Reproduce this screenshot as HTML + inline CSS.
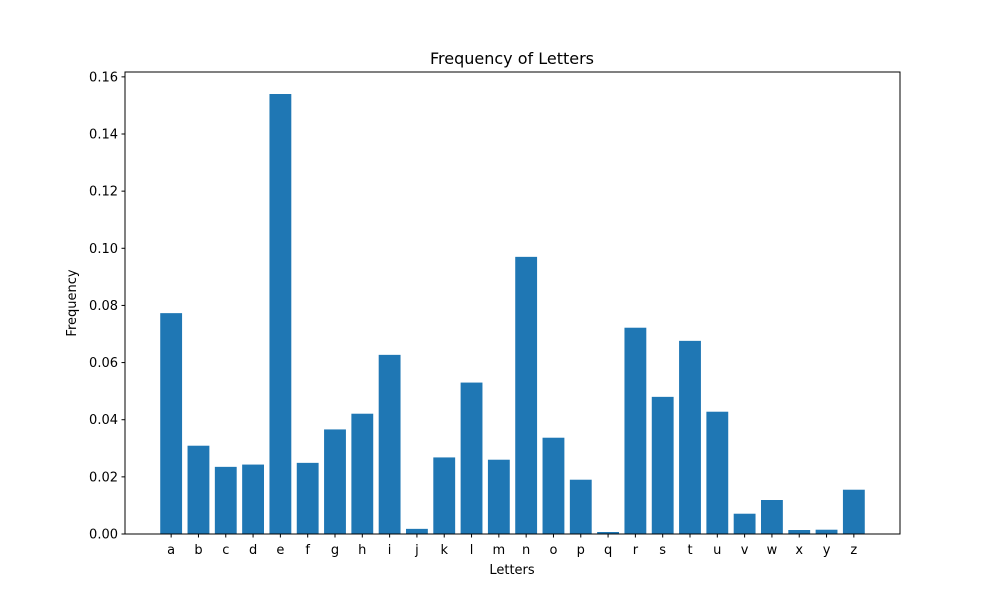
<!DOCTYPE html>
<html><head><meta charset="utf-8"><style>
body{margin:0;background:#fff;}
svg text{font-family:"DejaVu Sans","Liberation Sans",sans-serif;fill:#000;}
</style></head><body>
<svg id="chart" width="1000" height="600" xmlns="http://www.w3.org/2000/svg">
<rect width="1000" height="600" fill="#fff"/>
<text x="512" y="64" font-size="16" text-anchor="middle">Frequency of Letters</text>
<text x="512" y="574" font-size="13" text-anchor="middle">Letters</text>
<text x="0" y="0" font-size="13" text-anchor="middle" transform="translate(76,303) rotate(-90)">Frequency</text>
<g id="bars"></g><g id="ticks"></g>
<rect x="125" y="72" width="775" height="462" fill="none" stroke="#000" stroke-width="1"/>
</svg>
<script>
const categories=["a","b","c","d","e","f","g","h","i","j","k","l","m","n","o","p","q","r","s","t","u","v","w","x","y","z"];
const values=[0.0773,0.0309,0.0235,0.0243,0.154,0.0249,0.0366,0.0421,0.0627,0.0018,0.0268,0.053,0.026,0.097,0.0337,0.019,0.0007,0.0722,0.048,0.0676,0.0428,0.0071,0.0119,0.0014,0.0015,0.0155];
const yTicks=[0,0.02,0.04,0.06,0.08,0.10,0.12,0.14,0.16];
const yTickLabels=["0.00","0.02","0.04","0.06","0.08","0.10","0.12","0.14","0.16"];
const NS="http://www.w3.org/2000/svg";
const L=125,R=900,T=72,B=534;
const n=categories.length;
const yMax=Math.max(...values)*1.05;
const xMin=-0.4-0.05*(n-0.2),xMax=n-1+0.4+0.05*(n-0.2);
const xs=v=>L+(v-xMin)/(xMax-xMin)*(R-L);
const ys=v=>B-v/yMax*(B-T);
const bars=document.getElementById('bars'),ticks=document.getElementById('ticks');
function mk(tag,a){const e=document.createElementNS(NS,tag);for(const k in a)e.setAttribute(k,a[k]);return e;}
values.forEach((v,i)=>{
 const x0=xs(i-0.4),x1=xs(i+0.4);
 const r=mk('rect',{x:x0,y:ys(v),width:x1-x0,height:B-ys(v),fill:'#1f77b4'});
 
 
 bars.appendChild(r);
 const t=mk('line',{x1:xs(i),x2:xs(i),y1:B,y2:B+3.5,stroke:'#000'});
 
 
 ticks.appendChild(t);
 const lb=mk('text',{x:xs(i),y:B+20,'font-size':13,'text-anchor':'middle'});
 lb.textContent=categories[i];
 
 
 ticks.appendChild(lb);
});
yTicks.forEach((v,i)=>{
 const t=mk('line',{x1:L-3.5,x2:L,y1:ys(v),y2:ys(v),stroke:'#000'});
 
 
 ticks.appendChild(t);
 const lb=mk('text',{x:L-7,y:ys(v)+4.5,'font-size':13,'text-anchor':'end'});
 lb.textContent=yTickLabels[i];
 
 
 ticks.appendChild(lb);
});
</script>
</body></html>
